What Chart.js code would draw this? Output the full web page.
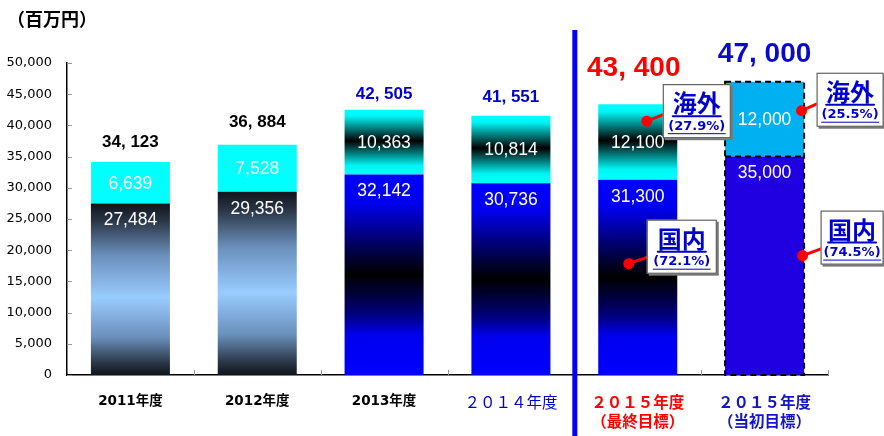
<!DOCTYPE html>
<html><head><meta charset="utf-8">
<script src="https://cdn.jsdelivr.net/npm/chart.js@4/dist/chart.umd.min.js"></script>
<style>html,body{margin:0;padding:0;background:#fff;overflow:hidden}</style>
</head><body>
<canvas id="c" width="884" height="436" style="display:block;width:884px;height:436px"></canvas>
<script>
// ---- data ----
const categories = ['2011年度', '2012年度', '2013年度', '２０１４年度', ['２０１５年度', '（最終目標）'], ['２０１５年度', '（当初目標）']];
const domestic = [27484, 29356, 32142, 30736, 31300, 35000];
const overseas = [6639, 7528, 10363, 10814, 12100, 12000];
const totals = [34123, 36884, 42505, 41551, 43400, 47000];
const domesticShare = [null, null, null, null, '(72.1%)', '(74.5%)'];
const overseasShare = [null, null, null, null, '(27.9%)', '(25.5%)'];
const unitLabel = '（百万円）';
const yMax = 50000;
const yStep = 5000;

// ---- styles ----
const CJK = "'Noto Sans CJK JP'";
const styleOf = i => i < 2 ? 'A' : (i < 5 ? 'B' : 'C');
const STOPS = {
  A_dom: [[0, '#10141c'], [0.1, '#2a3646'], [0.3, '#6a8fbb'], [0.55, '#99ccff'], [0.78, '#6a8fbb'], [0.93, '#2a3646'], [1, '#10141c']],
  B_dom: [[0, '#0000ff'], [0.14, '#0000f0'], [0.28, '#000090'], [0.42, '#000030'], [0.5, '#000000'], [0.58, '#000030'], [0.7, '#000080'], [0.8, '#0000ee'], [1, '#0000ff']],
  B_ovs: [[0, '#00ffff'], [0.1, '#00f4f4'], [0.48, '#000000'], [0.86, '#00f4f4'], [1, '#00ffff']]
};
const totalColors = ['#000000', '#000000', '#0000cc', '#0000cc', '#ff0000', '#0a0ac8'];
const totalOffsets = [20, 23, 15, 18, 36, 27];
const totalShift = [0, 0, 0, 0, -4, 0];
const tickColors = ['#000', '#000', '#000', '#0000cc', '#ff0000', '#1414c8'];

function makeGrad(ctx, top, bot, stops) {
  const g = ctx.createLinearGradient(0, top, 0, bot);
  stops.forEach(s => g.addColorStop(s[0], s[1]));
  return g;
}
function segColor(kind) {
  return (c) => {
    if (c.type !== 'data') return '#0000ff';
    const chart = c.chart, i = c.dataIndex, ys = chart.scales.y;
    const st = styleOf(i);
    if (st === 'C') return kind === 'dom' ? '#2000e0' : '#00b0f0';
    if (st === 'A' && kind === 'ovs') return '#00ffff';
    if (!ys) return kind === 'dom' ? '#0000ff' : '#00ffff';
    const lo = kind === 'dom' ? 0 : domestic[i];
    const hi = kind === 'dom' ? domestic[i] : domestic[i] + overseas[i];
    const top = ys.getPixelForValue(hi), bot = ys.getPixelForValue(lo);
    if (!isFinite(top) || !isFinite(bot) || top === bot) return kind === 'dom' ? '#0000ff' : '#00ffff';
    return makeGrad(chart.ctx, top, bot, STOPS[st + '_' + kind]);
  };
}
const fmt = n => n.toLocaleString('en-US');

// callouts: layout offsets relative to bar center / segment top
const callouts = [
  { index: 4, ds: 1, title: '海外', share: overseasShare, dot: [9, 17], end: [32, 8], box: [25, -20, 68, 54] },
  { index: 4, ds: 0, title: '国内', share: domesticShare, dot: [-9, 84], end: [14, 76], box: [9, 40, 70, 54] },
  { index: 5, ds: 1, title: '海外', share: overseasShare, dot: [37, 29], end: [62, 18], box: [52, -9, 67, 54] },
  { index: 5, ds: 0, title: '国内', share: domesticShare, dot: [38, 99], end: [65, 89], box: [56, 54, 63, 54] }
];

const overlay = {
  id: 'overlay',
  afterDatasetsDraw(chart) {
    const ctx = chart.ctx, ys = chart.scales.y, ca = chart.chartArea;
    const mDom = chart.getDatasetMeta(0), mOvs = chart.getDatasetMeta(1);
    ctx.save();
    // axis tick marks (inward)
    ctx.strokeStyle = '#999'; ctx.lineWidth = 1;
    ys.ticks.forEach(t => {
      const y = Math.round(ys.getPixelForValue(t.value)) + 0.5;
      ctx.beginPath(); ctx.moveTo(ca.left, y); ctx.lineTo(ca.left + 5, y); ctx.stroke();
    });
    const cw = (ca.right - ca.left) / categories.length;
    for (let k = 1; k <= categories.length; k++) {
      const x = Math.round(ca.left + k * cw) + 0.5;
      ctx.beginPath(); ctx.moveTo(x, ca.bottom); ctx.lineTo(x, ca.bottom - 5); ctx.stroke();
    }
    // dashed border on the initial-target bar
    categories.forEach((_, i) => {
      if (styleOf(i) !== 'C') return;
      const d = mDom.data[i], o = mOvs.data[i];
      const l = d.x - d.width / 2, r = d.x + d.width / 2;
      ctx.setLineDash([6, 4]); ctx.lineWidth = 2; ctx.strokeStyle = '#000';
      ctx.strokeRect(l, o.y, r - l, d.base - o.y);
      ctx.beginPath(); ctx.moveTo(l, d.y); ctx.lineTo(r, d.y); ctx.stroke();
      ctx.setLineDash([]);
    });
    // segment value labels
    ctx.fillStyle = '#fff'; ctx.textAlign = 'center'; ctx.textBaseline = 'middle';
    ctx.font = '17.5px Arial, "Liberation Sans"';
    categories.forEach((_, i) => {
      const d = mDom.data[i], o = mOvs.data[i];
      ctx.fillText(fmt(overseas[i]), o.x, (o.y + o.base) / 2 + 1);
      ctx.fillText(fmt(domestic[i]), d.x, d.y + 17);
    });
    // totals
    categories.forEach((_, i) => {
      const o = mOvs.data[i];
      const big = i >= 4;
      ctx.font = 'bold ' + (big ? 28 : 17) + 'px Arial, "Liberation Sans"';
      ctx.fillStyle = totalColors[i];
      ctx.fillText(fmt(totals[i]).replace(',', ', '), o.x + totalShift[i], o.y - totalOffsets[i]);
    });
    // separator line
    const sx = ca.left + 4 * cw;
    ctx.fillStyle = '#0000ff';
    ctx.fillRect(sx - 2, 30, 5, chart.height - 30);
    // callouts
    callouts.forEach(c => {
      const el = chart.getDatasetMeta(c.ds).data[c.index];
      const cx = el.x, top = el.y;
      const bx = cx + c.box[0], by = top + c.box[1], bw = c.box[2], bh = c.box[3];
      ctx.strokeStyle = '#ff0000'; ctx.lineWidth = 3; ctx.lineCap = 'round';
      ctx.beginPath(); ctx.moveTo(cx + c.dot[0], top + c.dot[1]); ctx.lineTo(cx + c.end[0], top + c.end[1]); ctx.stroke();
      ctx.fillStyle = '#777'; ctx.fillRect(bx + 2, by + 2, bw, bh);
      ctx.fillStyle = '#fff'; ctx.fillRect(bx, by, bw, bh);
      ctx.strokeStyle = '#444'; ctx.lineWidth = 1;
      ctx.strokeRect(bx + 0.5, by + 0.5, bw - 1, bh - 1);
      ctx.fillStyle = '#ff0000';
      ctx.beginPath(); ctx.arc(cx + c.dot[0], top + c.dot[1], 5.5, 0, Math.PI * 2); ctx.fill();
      const mx = bx + bw / 2;
      ctx.fillStyle = '#0000cc'; ctx.strokeStyle = '#0000cc';
      ctx.font = 'bold 24px ' + CJK;
      ctx.textAlign = 'center'; ctx.textBaseline = 'middle';
      ctx.fillText(c.title, mx, by + 19);
      let w = ctx.measureText(c.title).width;
      ctx.lineWidth = 2; ctx.beginPath(); ctx.moveTo(mx - w / 2, by + 32); ctx.lineTo(mx + w / 2, by + 32); ctx.stroke();
      ctx.font = 'bold 13px "DejaVu Sans"';
      const s = c.share[c.index];
      ctx.fillText(s, mx, by + 42);
      w = ctx.measureText(s).width;
      ctx.lineWidth = 1; ctx.beginPath(); ctx.moveTo(mx - w / 2, by + 49.5); ctx.lineTo(mx + w / 2, by + 49.5); ctx.stroke();
    });
    // unit label
    ctx.fillStyle = '#000'; ctx.textAlign = 'left'; ctx.textBaseline = 'middle';
    ctx.font = 'bold 18px ' + CJK;
    ctx.fillText(unitLabel, 7, 19);
    ctx.restore();
  }
};

new Chart(document.getElementById('c'), {
  type: 'bar',
  data: {
    labels: categories,
    datasets: [
      { label: '国内', data: domestic, backgroundColor: segColor('dom'), borderWidth: 0 },
      { label: '海外', data: overseas, backgroundColor: segColor('ovs'), borderWidth: 0 }
    ]
  },
  options: {
    responsive: false,
    animation: false,
    devicePixelRatio: 1,
    layout: { padding: { top: 63, right: 56, left: 0, bottom: 0 } },
    categoryPercentage: 1,
    barPercentage: 0.623,
    plugins: { legend: { display: false }, tooltip: { enabled: false } },
    scales: {
      x: {
        stacked: true,
        grid: { display: false },
        border: { display: true, color: '#000', width: 1.5 },
        afterFit: s => { s.height = 61; },
        ticks: {
          autoSkip: false, maxRotation: 0, padding: 10,
          color: c => tickColors[c.index],
          font: c => c.index < 3
            ? { family: "'DejaVu Sans', " + CJK, size: 13.5, weight: 'bold', lineHeight: 1.2 }
            : { family: CJK, size: 15.5, weight: c.index === 3 ? 'normal' : 'bold', lineHeight: 1.2 }
        }
      },
      y: {
        stacked: true,
        min: 0, max: yMax,
        grid: { display: false },
        border: { display: true, color: '#000', width: 1.5 },
        afterFit: s => { s.width = 67; },
        ticks: {
          stepSize: yStep, padding: 7, color: '#000',
          font: { family: "'DejaVu Sans'", size: 13 },
          callback: v => fmt(v)
        }
      }
    }
  },
  plugins: [overlay]
});
</script>
</body></html>
